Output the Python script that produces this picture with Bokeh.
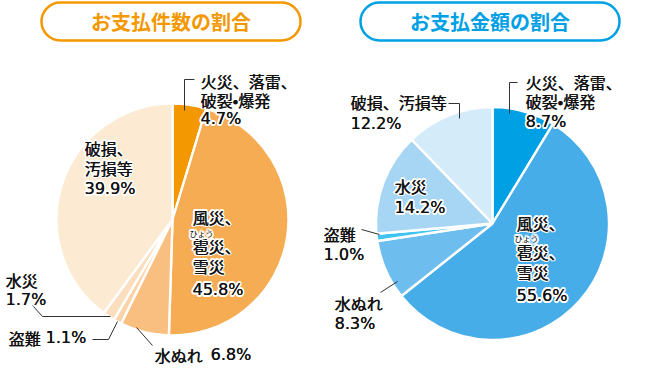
import numpy as np
from bokeh.plotting import figure
from bokeh.models import Range1d, BoxAnnotation, ColumnDataSource
from bokeh.core.properties import value
from bokeh.embed import file_html
from bokeh.resources import INLINE

# ---------------- data ----------------
categories = ["火災、落雷、破裂・爆発", "風災、雹災、雪災", "水ぬれ", "盗難", "水災", "破損、汚損等"]
count_share = [4.7, 45.8, 6.8, 1.1, 1.7, 39.9]      # お支払件数の割合 (%)
amount_share = [8.7, 55.6, 8.3, 1.0, 14.2, 12.2]    # お支払金額の割合 (%)
titles = ["お支払件数の割合", "お支払金額の割合"]

count_colors = ["#F39800", "#F5AC53", "#F8BF80", "#FAD3A8", "#FBDEBE", "#FDEAD2"]
amount_colors = ["#00A0E4", "#46ADE9", "#6EBDEF", "#3EC4F0", "#A7D6F5", "#D4EBFA"]
title_colors = ["#F39800", "#00A0E4"]

FONT = "Noto Sans CJK JP"
NUMFONT = "DejaVu Sans"
W, H = 660, 370


def Y(py):
    return H - py


p = figure(width=W, height=H, output_backend="svg", toolbar_location=None,
           x_range=Range1d(0, W), y_range=Range1d(0, H),
           min_border=0, outline_line_color=None, background_fill_color="white")
p.axis.visible = False
p.grid.visible = False


def pie(cx, cy, r, vals, colors):
    fr = np.array(vals, dtype=float) / float(sum(vals))
    cum = np.concatenate([[0.0], np.cumsum(fr)])
    src = ColumnDataSource(dict(start=np.pi / 2 - 2 * np.pi * cum[:-1],
                                end=np.pi / 2 - 2 * np.pi * cum[1:],
                                color=colors))
    p.wedge(x=cx, y=Y(cy), radius=r, start_angle="start", end_angle="end",
            direction="clock", fill_color="color", line_color="white",
            line_width=2.4, source=src)


pie(172, 219, 116, count_share, count_colors)
pie(492, 223, 116.5, amount_share, amount_colors)

# ---------------- title boxes ----------------
for (l, r), t, c in zip([(41, 300), (360, 619)], titles, title_colors):
    p.add_layout(BoxAnnotation(left=l, right=r, top=Y(2), bottom=Y(40),
                               fill_color="white", fill_alpha=1, level="underlay",
                               line_color=c, line_alpha=1, line_width=2.5,
                               border_radius=19))
    p.text(x=[(l + r) / 2], y=[Y(21)], text=[t], text_font=value(FONT),
           text_font_size="20px", text_font_style="bold", text_color=c,
           text_align="center", text_baseline="middle")

# ---------------- leader lines ----------------
leaders_x = [[194, 184, 184], [32, 42, 110], [92, 108, 117], [136, 152],
             [517, 509, 509], [448, 459, 459], [361, 379], [380, 397]]
leaders_y = [[79, 79, 110], [305, 316, 316], [339, 339, 321], [327, 345],
             [82, 82, 113], [103, 103, 118], [229, 234], [292, 281]]
p.multi_line(xs=leaders_x, ys=[[Y(v) for v in ys] for ys in leaders_y],
             line_color="#333333", line_width=1)

# ---------------- labels ----------------
c1 = [f"{v}%" for v in count_share]
c2 = [f"{v}%" for v in amount_share]

name_rows = [
    # left pie
    ("火災、落雷、", 200, 80), ("破裂•爆発", 200, 99),
    ("風災、", 192, 216), ("雹災、", 192, 245), ("雪災", 192, 265),
    ("水ぬれ", 154, 354),
    ("盗難", 8, 337),
    ("水災", 5, 279),
    ("破損、", 84, 147), ("汚損等", 84, 167),
    # right pie
    ("火災、落雷、", 525, 81), ("破裂•爆発", 525, 100),
    ("風災、", 516, 222), ("雹災、", 516, 251), ("雪災", 516, 271),
    ("水ぬれ", 334, 302),
    ("盗難", 323, 233),
    ("水災", 394, 185),
    ("破損、汚損等", 350, 101),
]
pct_rows = [
    (c1[0], 200, 118), (c1[1], 192, 289), (c1[2], 210, 354), (c1[3], 45, 337),
    (c1[4], 5, 299), (c1[5], 84, 188),
    (c2[0], 525, 121), (c2[1], 516, 295), (c2[2], 334, 323), (c2[3], 323, 254),
    (c2[4], 394, 207), (c2[5], 350, 123),
]
ruby = [("ひょう", 189, 233), ("ひょう", 514, 238)]


def draw_text(items, size, font, halo, bold_shift=0.45):
    src = ColumnDataSource(dict(x=[it[1] for it in items],
                                y=[Y(it[2]) for it in items],
                                t=[it[0] for it in items]))
    if halo:
        for ang in np.linspace(0, 2 * np.pi, 12, endpoint=False):
            p.text(x="x", y="y", text="t", source=src, text_font=value(font),
                   text_font_size=size, text_color="white",
                   text_align="left", text_baseline="middle",
                   x_offset=1.8 * np.cos(ang), y_offset=1.8 * np.sin(ang))
    shifts = (0, bold_shift) if bold_shift else (0,)
    for dx in shifts:
        p.text(x="x", y="y", text="t", source=src, text_font=value(font),
               text_font_size=size, text_color="#111111",
               text_align="left", text_baseline="middle", x_offset=dx)


draw_text(name_rows, "16px", FONT, True)
draw_text(pct_rows, "16px", NUMFONT, True, bold_shift=0.2)
draw_text(ruby, "8px", FONT, True, bold_shift=0)

open("out.html", "w").write(file_html(p, INLINE))
